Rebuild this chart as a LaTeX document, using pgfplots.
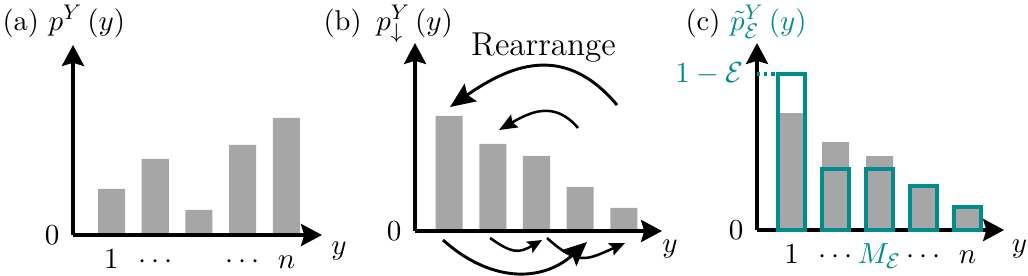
\documentclass[border=0pt]{standalone}
\usepackage{pgfplots}
\pgfplotsset{compat=1.18}
\usetikzlibrary{arrows.meta}
\definecolor{tealc}{RGB}{0,140,140}
\definecolor{barg}{RGB}{166,166,166}
\newcommand\lbl{\fontsize{10.8}{13}\selectfont}
\pgfplotsset{
  myax/.style={
    axis lines=left,
    axis line style={line width=1.4pt, -{Stealth[length=7.9pt,width=8.3pt,inset=1.2pt]}},
    ymin=0,
    xtick style={draw=none}, ytick style={draw=none},
    tick label style={font=\lbl},
    y=0.3774pt,
    clip=false,
    xticklabel style={anchor=base, yshift=-10.6pt},
    yticklabel style={xshift=0.5pt},
    anchor=south west,
  },
  graybar/.style={ybar, bar width=10.19pt, bar shift=0pt, fill=barg, draw=none},
}
\begin{document}
\begin{tikzpicture}[x=0.3774pt,y=0.3774pt,font=\lbl]
\path[use as bounding box] (0,0) rectangle (1028,275);

% ---------- (a)
\begin{axis}[myax, at={(27.55pt,15.10pt)}, x=16.51pt,
  xmin=0.12, xmax=5.811, ymax=190, axis on top,
  xtick={1,2,3,4,5}, xticklabels={$1$,$\cdots$,,$\cdots$,$n$},
  ytick={0}, yticklabels={$0$}]
\addplot[graybar] coordinates {(1,46) (2,76) (3,25) (4,90) (5,117)};
\end{axis}

% ---------- (b)
\begin{axis}[myax, at={(156.62pt,16.61pt)}, x=16.51pt,
  xmin=0.223, xmax=5.869, ymax=188, axis on top,
  xtick=\empty,
  ytick={0}, yticklabels={$0$}]
\addplot[graybar] coordinates {(1,115) (2,87) (3,75) (4,44) (5,23)};
\end{axis}

% ---------- (c)
\begin{axis}[myax, at={(285.69pt,16.98pt)}, x=16.61pt,
  xmin=0.216, xmax=5.83, ymax=187,
  xtick={1,2,3,4,5}, xticklabels={$1$,$\cdots$,$\color{tealc}M_{\mathcal{E}}$,$\cdots$,$n$},
  ytick={0,156}, yticklabels={$0$,$\color{tealc}1-\mathcal{E}$}]
\addplot[graybar] coordinates {(1,117) (2,88) (3,74) (4,44) (5,23)};
\addplot[ybar, bar width=10.19pt, bar shift=0pt, fill=none, draw=tealc, line width=1.5pt]
  coordinates {(1,156) (2,61) (3,61) (4,44) (5,23)};
\draw[tealc, line width=1.2pt, dash pattern=on 1.2pt off 1.5pt] (axis cs:0.216,156) -- (axis cs:0.69,156);
\end{axis}

% titles
\node[anchor=base west, inner sep=0pt] at (2,245) {(a) $p^{Y}\left(y\right)$};
\node[anchor=base west, inner sep=0pt] at (323,245) {(b)\hspace{5.5pt}$p^{Y}_{\downarrow}\left(y\right)$};
\node[anchor=base west, inner sep=0pt] at (685,245) {(c) \textcolor{tealc}{$\tilde{p}^{Y}_{\mathcal{E}}\left(y\right)$}};

% axis variable labels
\node at (339,24) {$y$};
\node at (670,26) {$y$};
\node at (1019.5,26) {$y$};

% rearrange
\node[anchor=base, inner sep=0pt, font=\fontsize{12.5}{15}\selectfont] at (543.5,220) {Rearrange};
\draw[line width=1.1pt, -{Stealth[length=9.5pt,width=8pt,inset=1.5pt]}] (617,170) to[out=130,in=35,looseness=1.2] (450,168);
\draw[line width=0.95pt, -{Stealth[length=6.8pt,width=5.5pt,inset=1pt]}] (578,147) to[out=130,in=30,looseness=1.17] (499,145);
\draw[line width=1.1pt, -{Stealth[length=9pt,width=8pt,inset=1.5pt]}] (443,35) to[out=-42,in=-138,looseness=1.1] (587,33);
\draw[line width=0.95pt, -{Stealth[length=5.5pt,width=4.8pt,inset=1pt]}] (490,37) to[out=-35,in=-150,looseness=1.33] (542,35);
\draw[line width=0.95pt, -{Stealth[length=5.8pt,width=5pt,inset=1pt]}] (547,37) to[out=-42,in=-156,looseness=1.37] (625,32);
\end{tikzpicture}
\end{document}
